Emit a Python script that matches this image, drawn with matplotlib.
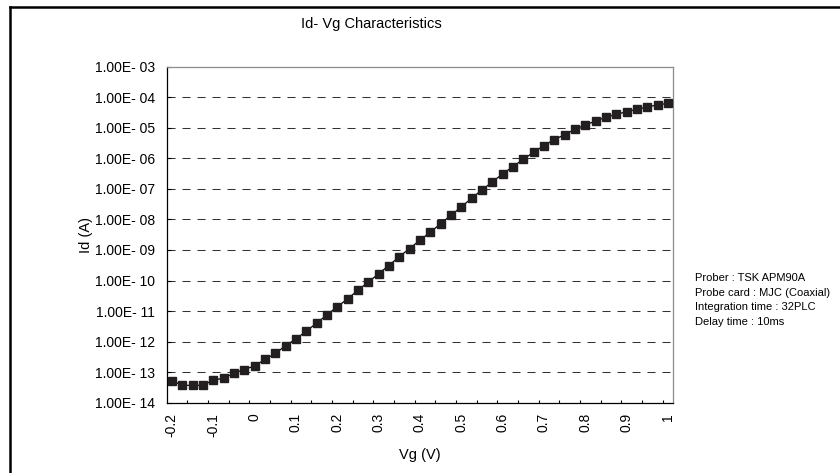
import matplotlib
matplotlib.use("Agg")
import matplotlib.pyplot as plt
import numpy as np
from matplotlib.ticker import FixedLocator, FuncFormatter
from matplotlib.lines import Line2D

plt.rcParams['font.family'] = ['Liberation Sans', 'DejaVu Sans']
plt.rcParams['lines.scale_dashes'] = False

# ---- data ----
vg = [-0.2, -0.175, -0.15, -0.125, -0.1, -0.075, -0.05, -0.025, 0.0, 0.025,
      0.05, 0.075, 0.1, 0.125, 0.15, 0.175, 0.2, 0.225, 0.25, 0.275,
      0.3, 0.325, 0.35, 0.375, 0.4, 0.425, 0.45, 0.475, 0.5, 0.525,
      0.55, 0.575, 0.6, 0.625, 0.65, 0.675, 0.7, 0.725, 0.75, 0.775,
      0.8, 0.825, 0.85, 0.875, 0.9, 0.925, 0.95, 0.975, 1.0]
id_a = [5.3e-14, 3.7e-14, 3.7e-14, 3.7e-14, 5.5e-14, 6.3e-14, 9.2e-14, 1.22e-13, 1.6e-13, 2.6e-13,
        4.1e-13, 7.3e-13, 1.22e-12, 2.2e-12, 4.0e-12, 7.5e-12, 1.38e-11, 2.5e-11, 4.8e-11, 8.8e-11,
        1.66e-10, 3.1e-10, 6.0e-10, 1.11e-9, 2.07e-9, 3.8e-9, 7.2e-9, 1.36e-8, 2.55e-8, 4.9e-8,
        9.2e-8, 1.67e-7, 3.1e-7, 5.3e-7, 9.3e-7, 1.57e-6, 2.6e-6, 4.1e-6, 5.9e-6, 8.9e-6,
        1.23e-5, 1.66e-5, 2.2e-5, 2.75e-5, 3.35e-5, 4.0e-5, 4.8e-5, 5.6e-5, 6.3e-5]
x_tick_values = [-0.2, -0.1, 0.0, 0.1, 0.2, 0.3, 0.4, 0.5, 0.6, 0.7, 0.8, 0.9, 1.0]
x_tick_labels = ['-0.2', '-0.1', '0', '0.1', '0.2', '0.3', '0.4', '0.5', '0.6', '0.7', '0.8', '0.9', '1']
y_decades = [-14, -13, -12, -11, -10, -9, -8, -7, -6, -5, -4, -3]
title = "Id- Vg Characteristics"
xlabel = "Vg (V)"
ylabel = "Id (A)"
notes = ["Prober : TSK APM90A", "Probe card : MJC (Coaxial)",
         "Integration time : 32PLC", "Delay time : 10ms"]

W, H = 840, 473
fig = plt.figure(figsize=(W / 100, H / 100), dpi=100)
fig.patch.set_facecolor('white')

def fx(px):
    return px / W

def fy(py):
    return 1 - py / H

left, right, top, bottom = 166.7, 673.0, 66.7, 402.7
ax = fig.add_axes([fx(left), fy(bottom), fx(right - left), (bottom - top) / H])

ax.set_yscale('log')
ax.set_ylim(1e-14, 1e-3)
step = 0.025
ax.set_xlim(vg[0] - step / 2, vg[-1] + step / 2)

# gridlines
for e in y_decades[1:-1]:
    ax.axhline(10.0 ** e, color='#333333', lw=0.75, linestyle=(0, (5.8, 5.0)), zorder=1)

ax.plot(vg, id_a, color='black', lw=0.9, marker='s', markersize=5.3,
        markerfacecolor='#231f20', markeredgecolor='#231f20', zorder=3, clip_on=False)

# y ticks
ax.yaxis.set_major_locator(FixedLocator([10.0 ** e for e in y_decades]))
ax.yaxis.set_minor_locator(FixedLocator([]))
ax.yaxis.set_major_formatter(FuncFormatter(
    lambda v, p: "1.00E- %02d" % abs(int(round(np.log10(v))))))
ax.tick_params(axis='y', which='major', direction='in', length=3.2, width=0.8,
               pad=8.4, labelsize=10, color='black')

# x ticks: labels at category centres, marks between categories
ax.set_xticks(x_tick_values)
ax.set_xticklabels(x_tick_labels, rotation=90, va='top', ha='center')
ax.tick_params(axis='x', which='major', length=0, pad=7.5, labelsize=10)
edges = np.arange(1, 25) * (2 * step) + (vg[0] - step / 2)
ax.xaxis.set_minor_locator(FixedLocator(edges))
ax.tick_params(axis='x', which='minor', direction='in', length=2.3, width=0.8, color='black')

for s in ['left', 'bottom']:
    ax.spines[s].set_color('black')
    ax.spines[s].set_linewidth(0.9)
for s in ['top', 'right']:
    ax.spines[s].set_color('#8c8c8c')
    ax.spines[s].set_linewidth(0.9)

# texts
fig.text(fx(371.5), fy(24), title, ha='center', va='center', fontsize=10.5)
fig.text(fx(419.8), fy(455), xlabel, ha='center', va='center', fontsize=10.5)
fig.text(fx(86), fy(234.7), ylabel, ha='center', va='center', rotation=90, fontsize=10.5)
note_y = [278.3, 292.7, 307.3, 321.7]
for t, yy in zip(notes, note_y):
    fig.text(fx(695), fy(yy), t, ha='left', va='center', fontsize=8)

# outer chart frame
fig.add_artist(Line2D([fx(9.5), fx(9.5)], [fy(7), fy(480)], color='black', lw=1.8))
fig.add_artist(Line2D([fx(9.5), fx(850)], [fy(7), fy(7)], color='black', lw=1.8))

fig.savefig('out.png', dpi=100, facecolor='white')
